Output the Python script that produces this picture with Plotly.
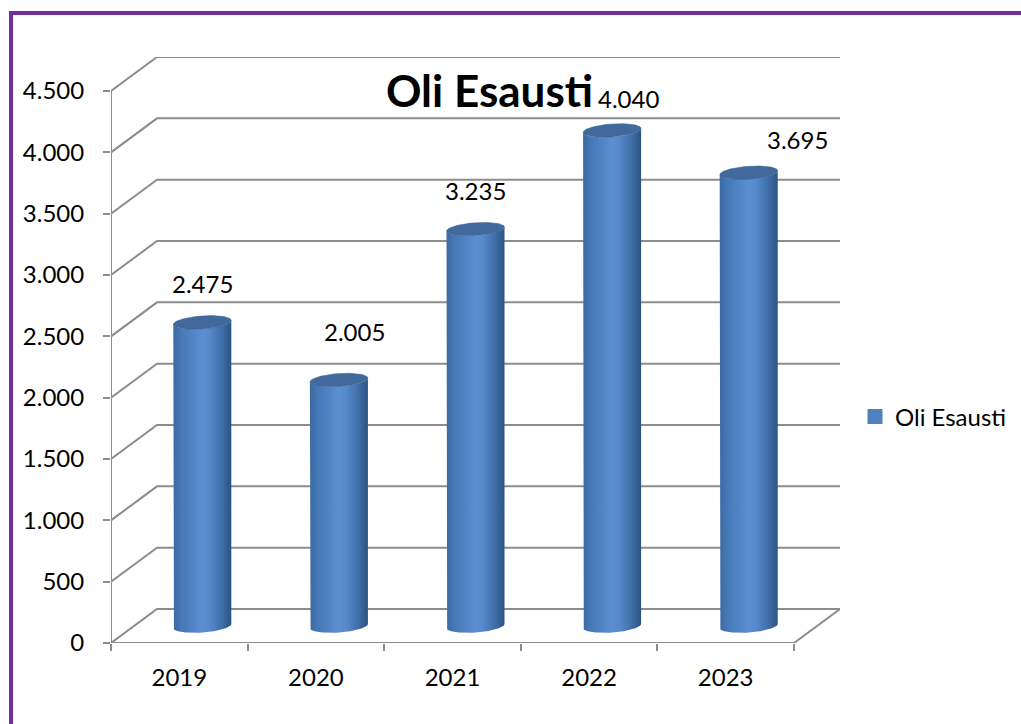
import numpy as np
import plotly.graph_objects as go

# ---------------- data ----------------
categories = ["2019", "2020", "2021", "2022", "2023"]
values = [2475, 2005, 3235, 4040, 3695]
value_labels = ["2.475", "2.005", "3.235", "4.040", "3.695"]
y_ticks = [0, 500, 1000, 1500, 2000, 2500, 3000, 3500, 4000, 4500]
y_tick_labels = ["0", "500", "1.000", "1.500", "2.000", "2.500", "3.000", "3.500", "4.000", "4.500"]
series_name = "Oli Esausti"
chart_title = "Oli Esausti"

# ---------------- layout / geometry ----------------
W, H = 1021, 724
ML, MR, MT, MB = 111, 181, 57, 81
PX_PER_X = 136.6
PX_PER_Y = 552 / 4500
DEPTH_X = 46 / PX_PER_X
DEPTH_Y = 34 / PX_PER_Y
R_X = 29 / PX_PER_X
ELL_B = 6.5 / PX_PER_Y
ELL_T = 2.0 / PX_PER_Y
X0 = -0.5
X1 = len(categories) - 0.5
Y_MAX = y_ticks[-1]

label_dx_px = [0, 16, 0, 16, 49]
label_dy_px = [39, 49, 39, 32, 33]

FONT = "Lato"
GRID = "#8c8c8c"
FS = 24

fig = go.Figure()

# back wall / floor / side grid
gx, gy = [], []
for v in y_ticks:
    gx += [X0, X0 + DEPTH_X, X1 + DEPTH_X, None]
    gy += [v, v + DEPTH_Y, v + DEPTH_Y, None]
gx += [X0, X0, None, X0, X1, X1 + DEPTH_X, None]
gy += [Y_MAX, 0, None, 0, 0, DEPTH_Y, None]
fig.add_trace(go.Scatter(x=gx, y=gy, mode="lines", line=dict(color=GRID, width=2),
                         hoverinfo="skip", showlegend=False))

# cylinders
body_scale = [[0, "#3b6aa3"], [0.12, "#4577b5"], [0.5, "#5a8fd2"], [0.62, "#5789cb"],
              [0.85, "#3e6ca6"], [1, "#2c5282"]]
for i, v in enumerate(values):
    cx = i + DEPTH_X / 2
    base = DEPTH_Y / 2
    top = v + DEPTH_Y / 2
    th = np.linspace(np.pi, 0, 60)
    bx = list(cx + R_X * np.cos(th))
    by = list(base + ELL_T * np.cos(th) - ELL_B * np.sin(th))
    th2 = np.linspace(0, np.pi, 60)
    tx = list(cx + R_X * np.cos(th2))
    ty = list(top + ELL_T * np.cos(th2) - ELL_B * np.sin(th2))
    px = [cx - R_X] + bx + tx
    py = [top - ELL_T] + by + ty
    fig.add_trace(go.Scatter(x=px, y=py, mode="lines", fill="toself",
                             line=dict(width=0, color="rgba(0,0,0,0)"),
                             fillgradient=dict(type="horizontal", colorscale=body_scale),
                             hoverinfo="skip", showlegend=False))
    tc = np.linspace(0, 2 * np.pi, 120)
    cxs = cx + R_X * np.cos(tc)
    cys = top + ELL_T * np.cos(tc) - ELL_B * np.sin(tc)
    fig.add_trace(go.Scatter(x=cxs, y=cys, mode="lines", fill="toself",
                             line=dict(width=0.5, color="#3a6294"),
                             fillcolor="#41699c", hoverinfo="skip", showlegend=False))
    fig.add_annotation(x=cx, y=top, xshift=label_dx_px[i], yshift=label_dy_px[i],
                       text=value_labels[i], showarrow=False,
                       font=dict(family=FONT, size=FS, color="black"))

# legend entry
fig.add_trace(go.Scatter(x=[None], y=[None], mode="markers", name=series_name,
                         marker=dict(symbol="square", size=15, color="#4f81bd")))

def pxx(p):
    return (p - ML) / (W - ML - MR)

def pxy(p):
    return (H - MB - p) / (H - MT - MB)

# purple frame (left and top)
fig.add_shape(type="line", xref="paper", yref="paper", x0=pxx(11), x1=pxx(11),
              y0=pxy(11), y1=pxy(H + 5), line=dict(color="#7030a0", width=4))
fig.add_shape(type="line", xref="paper", yref="paper", x0=pxx(9), x1=pxx(W + 5),
              y0=pxy(13), y1=pxy(13), line=dict(color="#7030a0", width=4))

fig.update_layout(
    width=W, height=H,
    margin=dict(l=ML, r=MR, t=MT, b=MB),
    paper_bgcolor="white", plot_bgcolor="white",
    separators=",.",
    title=dict(text="<b>" + chart_title + "</b>", x=489.5 / W, y=1 - 92 / H,
               xanchor="center", yanchor="middle", xref="container", yref="container",
               font=dict(family=FONT, size=44, color="black")),
    xaxis=dict(range=[X0, X1 + DEPTH_X], showgrid=False, zeroline=False, showline=False,
               tickmode="array", tickvals=list(range(len(categories))), ticktext=categories,
               ticks="", ticklabelstandoff=18,
               minor=dict(tickmode="array", tickvals=[X0 + k for k in range(len(categories) + 1)],
                          ticks="outside", ticklen=7, tickcolor=GRID, tickwidth=2, showgrid=False),
               tickfont=dict(family=FONT, size=FS, color="black"), fixedrange=True),
    yaxis=dict(range=[0, Y_MAX + DEPTH_Y], showgrid=False, zeroline=False, showline=False,
               tickmode="array", tickvals=y_ticks, ticktext=y_tick_labels,
               ticks="outside", ticklen=7, tickcolor=GRID, tickwidth=2, ticklabelstandoff=14,
               tickfont=dict(family=FONT, size=FS, color="black"), fixedrange=True),
    legend=dict(xref="container", yref="container", x=855 / W, y=1 - 417 / H,
                xanchor="left", yanchor="middle", font=dict(family=FONT, size=FS, color="black"),
                bgcolor="rgba(0,0,0,0)"),
    showlegend=True,
)

fig.write_html("out.html", config={"displayModeBar": False},
               post_script="document.body.style.margin='0';document.body.style.overflow='hidden';")
